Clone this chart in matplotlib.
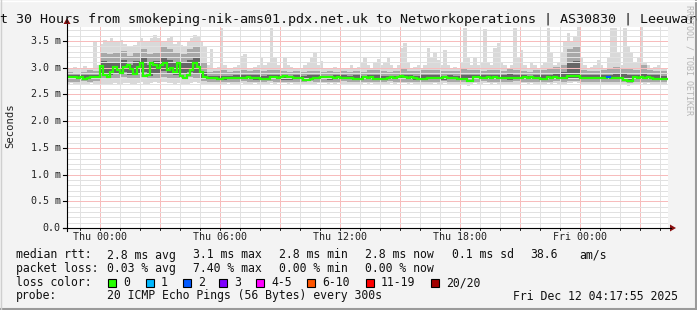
import numpy as np
import matplotlib
matplotlib.use("Agg")
import matplotlib.pyplot as plt
from matplotlib.patches import Rectangle, Polygon
from matplotlib.lines import Line2D

# ---------------- data (milliseconds, 10-minute bins from Wed 22:20) ----------------
bin_hours = 1.0 / 6.0
start_hour = -5.0 / 3.0   # Wed 22:20 relative to Thu 00:00

median_rtt = [
    2.82, 2.83, 2.82, 2.81, 2.82, 2.79, 2.80, 2.82, 2.83, 2.82,
    3.03, 2.86, 2.83, 2.92, 3.01, 2.96, 2.91, 3.01, 3.06, 2.98, 2.88, 3.02, 3.08, 2.85, 2.87, 3.09,
    3.05, 3.00, 3.05, 3.09, 2.96, 3.00, 2.92, 3.09, 2.84, 2.81, 2.86, 2.96, 3.09, 3.02, 2.92, 2.83,
    2.81, 2.81, 2.81, 2.79, 2.79, 2.80, 2.81, 2.81, 2.80, 2.80,
    2.80, 2.81, 2.82, 2.80, 2.80, 2.80, 2.78, 2.79, 2.79, 2.82,
    2.82, 2.81, 2.83, 2.84, 2.83, 2.83, 2.80, 2.80, 2.80, 2.77,
    2.77, 2.78, 2.80, 2.80, 2.83, 2.83, 2.83, 2.82, 2.81, 2.82,
    2.80, 2.80, 2.80, 2.80, 2.79, 2.78, 2.79, 2.82, 2.81, 2.82,
    2.79, 2.79, 2.78, 2.79, 2.81, 2.82, 2.81, 2.83, 2.84, 2.83,
    2.81, 2.82, 2.81, 2.79, 2.78, 2.78, 2.80, 2.80, 2.81, 2.80,
    2.81, 2.82, 2.80, 2.80, 2.80, 2.79, 2.79, 2.79, 2.75, 2.76,
    2.82, 2.82, 2.81, 2.81, 2.82, 2.81, 2.82, 2.80, 2.80, 2.80,
    2.80, 2.80, 2.81, 2.80, 2.81, 2.82, 2.81, 2.83, 2.80, 2.80,
    2.79, 2.79, 2.82, 2.81, 2.82, 2.80, 2.80, 2.81, 2.84, 2.85,
    2.85, 2.85, 2.80, 2.80, 2.80, 2.81, 2.80, 2.80, 2.80, 2.81,
    2.82, 2.81, 2.80, 2.80, 2.80, 2.77, 2.76, 2.76, 2.82, 2.81,
    2.82, 2.81, 2.82, 2.81, 2.79, 2.79, 2.79, 2.79,
]

ping_max = [
    3.00, 2.98, 3.02, 2.98, 3.00, 3.03, 2.99, 3.00, 3.50, 3.05,
    3.45, 3.52, 3.50, 3.55, 3.48, 3.50, 3.52, 3.45, 3.40, 3.38, 3.42, 3.50, 3.55, 3.48, 3.50, 3.55,
    3.62, 3.55, 3.50, 3.48, 3.55, 3.60, 3.45, 3.50, 3.42, 3.40, 3.48, 3.55, 3.62, 3.58, 3.50, 3.40,
    3.05, 3.35, 3.00, 3.02, 3.74, 3.05, 2.98, 3.00, 3.02, 3.05,
    3.22, 3.25, 3.00, 2.98, 3.02, 3.05, 3.18, 3.05, 3.10, 3.74,
    3.20, 3.05, 3.00, 3.18, 3.05, 3.02, 3.00, 2.98, 3.00, 3.05,
    3.10, 3.18, 3.30, 3.05, 3.12, 3.00, 2.98, 3.00, 3.02, 2.98,
    3.00, 2.98, 3.00, 3.05, 3.00, 3.02, 3.10, 3.18, 3.05, 3.00,
    3.10, 3.16, 3.05, 3.10, 3.20, 3.05, 3.00, 3.05, 3.36, 3.46,
    3.10, 3.00, 3.02, 3.05, 3.00, 3.05, 3.36, 3.18, 3.30, 3.15,
    3.05, 3.33, 3.05, 3.00, 3.02, 3.00, 3.10, 3.74, 3.20, 3.05,
    3.18, 3.05, 3.10, 3.72, 3.10, 3.05, 3.36, 3.46, 3.10, 3.05,
    3.00, 3.05, 3.74, 3.20, 3.33, 3.05, 3.00, 3.10, 3.05, 3.00,
    3.05, 3.10, 3.74, 3.30, 3.05, 3.10, 3.30, 3.50, 3.65, 3.50,
    3.60, 3.76, 3.20, 3.05, 3.00, 3.02, 3.05, 3.15, 3.05, 3.00,
    3.20, 3.74, 3.74, 3.30, 3.05, 3.74, 3.40, 3.27, 3.10, 3.20,
    3.76, 3.10, 3.05, 3.00, 3.02, 3.05, 3.00, 2.98,
]

ping_min = [
    2.70, 2.71, 2.70, 2.69, 2.70, 2.68, 2.70, 2.71, 2.70, 2.69,
    2.70, 2.68, 2.69, 2.70, 2.72, 2.70, 2.69, 2.71, 2.72, 2.70, 2.69, 2.72, 2.74, 2.70, 2.68, 2.72,
    2.74, 2.72, 2.73, 2.74, 2.71, 2.72, 2.70, 2.72, 2.69, 2.68, 2.69, 2.71, 2.73, 2.71, 2.70, 2.69,
    2.70, 2.69, 2.70, 2.68, 2.69, 2.70, 2.71, 2.70, 2.69, 2.70,
    2.71, 2.70, 2.69, 2.70, 2.71, 2.70, 2.68, 2.69, 2.70, 2.71,
    2.70, 2.71, 2.72, 2.71, 2.70, 2.71, 2.70, 2.69, 2.70, 2.68,
    2.68, 2.69, 2.70, 2.71, 2.72, 2.71, 2.70, 2.71, 2.70, 2.71,
    2.70, 2.69, 2.70, 2.70, 2.69, 2.68, 2.69, 2.71, 2.70, 2.71,
    2.69, 2.70, 2.68, 2.69, 2.70, 2.71, 2.70, 2.71, 2.72, 2.71,
    2.70, 2.71, 2.70, 2.69, 2.68, 2.69, 2.70, 2.70, 2.71, 2.70,
    2.70, 2.71, 2.70, 2.69, 2.70, 2.69, 2.70, 2.69, 2.66, 2.67,
    2.71, 2.70, 2.70, 2.71, 2.71, 2.70, 2.71, 2.70, 2.69, 2.70,
    2.70, 2.69, 2.70, 2.70, 2.71, 2.71, 2.70, 2.72, 2.70, 2.69,
    2.69, 2.68, 2.71, 2.70, 2.71, 2.70, 2.69, 2.70, 2.72, 2.72,
    2.73, 2.72, 2.70, 2.69, 2.70, 2.70, 2.70, 2.69, 2.70, 2.70,
    2.68, 2.70, 2.70, 2.69, 2.70, 2.67, 2.66, 2.67, 2.70, 2.70,
    2.71, 2.70, 2.71, 2.70, 2.69, 2.69, 2.68, 2.69,
]

# smoke bands on 20-minute bins
band_hours = 1.0 / 3.0
ping_p10 = [
    2.74, 2.74, 2.75, 2.74, 2.75,
    2.80, 2.78, 2.80, 2.82, 2.79, 2.80, 2.82, 2.78, 2.80, 2.82, 2.80, 2.78, 2.80, 2.82, 2.79, 2.75,
    2.74, 2.74, 2.73, 2.74, 2.74, 2.75, 2.74, 2.73, 2.74, 2.75,
    2.74, 2.74, 2.73, 2.74, 2.74, 2.75, 2.74, 2.74, 2.73, 2.74,
    2.75, 2.74, 2.74, 2.74, 2.73, 2.74, 2.74, 2.75, 2.74, 2.74,
    2.74, 2.73, 2.74, 2.74, 2.74, 2.75, 2.74, 2.74, 2.73, 2.74,
    2.74, 2.75, 2.74, 2.74, 2.74, 2.74, 2.75, 2.74, 2.74, 2.73,
    2.73, 2.74, 2.75, 2.74, 2.76, 2.76, 2.74, 2.74, 2.74, 2.74,
    2.74, 2.74, 2.74, 2.72, 2.73, 2.74, 2.74, 2.74, 2.73,
]
ping_p90 = [
    2.92, 2.90, 2.92, 2.95, 2.93,
    3.30, 3.25, 3.28, 3.32, 3.22, 3.30, 3.35, 3.25, 3.30, 3.38, 3.35, 3.28, 3.25, 3.35, 3.38, 3.10,
    2.92, 2.93, 2.95, 2.92, 2.93, 2.96, 2.94, 2.95, 2.93, 2.95,
    2.96, 2.93, 2.92, 2.93, 2.92, 2.93, 2.94, 2.92, 2.93, 2.92,
    2.93, 2.92, 2.94, 2.92, 2.95, 2.96, 2.93, 2.92, 2.93, 2.97,
    2.94, 2.93, 2.95, 2.96, 2.95, 2.93, 2.94, 2.93, 2.98, 2.96,
    2.95, 2.94, 2.95, 2.96, 2.94, 2.98, 2.96, 2.93, 2.92, 2.95,
    2.95, 2.97, 3.02, 3.05, 3.35, 3.40, 2.95, 2.94, 2.93, 2.95,
    2.98, 3.02, 3.00, 3.00, 2.96, 3.05, 2.95, 2.94, 2.93,
]
ping_p25 = [
    2.79, 2.78, 2.79, 2.79, 2.79,
    2.88, 2.86, 2.88, 2.92, 2.86, 2.90, 2.92, 2.85, 2.90, 2.93, 2.90, 2.86, 2.88, 2.92, 2.88, 2.79,
    2.78, 2.78, 2.77, 2.78, 2.78, 2.78, 2.79, 2.77, 2.78, 2.79,
    2.78, 2.77, 2.77, 2.78, 2.78, 2.79, 2.78, 2.78, 2.77, 2.78,
    2.79, 2.78, 2.77, 2.78, 2.78, 2.78, 2.77, 2.78, 2.78, 2.78,
    2.78, 2.77, 2.78, 2.78, 2.78, 2.77, 2.78, 2.78, 2.78, 2.78,
    2.78, 2.79, 2.78, 2.78, 2.78, 2.77, 2.78, 2.79, 2.78, 2.78,
    2.77, 2.78, 2.78, 2.78, 2.80, 2.80, 2.78, 2.78, 2.78, 2.78,
    2.78, 2.78, 2.78, 2.76, 2.78, 2.78, 2.78, 2.78, 2.77,
]
ping_p75 = [
    2.86, 2.86, 2.87, 2.87, 2.86,
    3.12, 3.08, 3.10, 3.15, 3.05, 3.12, 3.18, 3.06, 3.12, 3.18, 3.15, 3.10, 3.08, 3.15, 3.18, 2.92,
    2.85, 2.85, 2.85, 2.85, 2.86, 2.86, 2.87, 2.86, 2.85, 2.86,
    2.87, 2.85, 2.85, 2.86, 2.85, 2.86, 2.86, 2.85, 2.85, 2.86,
    2.86, 2.85, 2.86, 2.85, 2.86, 2.87, 2.85, 2.85, 2.85, 2.87,
    2.86, 2.85, 2.86, 2.87, 2.86, 2.85, 2.86, 2.85, 2.87, 2.86,
    2.86, 2.86, 2.86, 2.87, 2.86, 2.88, 2.86, 2.86, 2.85, 2.86,
    2.86, 2.87, 2.89, 2.92, 3.10, 3.12, 2.86, 2.86, 2.86, 2.86,
    2.87, 2.89, 2.88, 2.87, 2.86, 2.89, 2.86, 2.86, 2.85,
]

# (bin index, lost pings) for bins with packet loss
loss_events = [(162, 2)]

x_tick_hours = [0, 6, 12, 18, 24]
x_tick_labels = ["Thu 00:00", "Thu 06:00", "Thu 12:00", "Thu 18:00", "Fri 00:00"]
y_tick_values = [0.0, 0.5, 1.0, 1.5, 2.0, 2.5, 3.0, 3.5]
y_tick_labels = ["0.0", "0.5 m", "1.0 m", "1.5 m", "2.0 m", "2.5 m", "3.0 m", "3.5 m"]

loss_color_labels = ["0", "1", "2", "3", "4-5", "6-10", "11-19", "20/20"]
loss_colors = ["#26ff00", "#00b8ff", "#0059ff", "#7e00ff", "#ff00ff", "#ff5500", "#ff0000", "#a10000"]

title = "Last 30 Hours from smokeping-nik-ams01.pdx.net.uk to Networkoperations | AS30830 | Leeuwarden"

for name, arr, n in [("med", median_rtt, 180), ("max", ping_max, 180), ("min", ping_min, 180),
                     ("p10", ping_p10, 90), ("p90", ping_p90, 90), ("p25", ping_p25, 90), ("p75", ping_p75, 90)]:
    assert len(arr) == n, (name, len(arr))

# ---------------- figure ----------------
W, H = 697, 310
fig = plt.figure(figsize=(W / 100, H / 100), dpi=100)
fig.patch.set_facecolor("#f3f3f3")
MONO = "DejaVu Sans Mono"

def fx(px):
    return px / W

def fy(py):
    return 1 - py / H

L, R, T, B = 67, 668, 27, 228
ax = fig.add_axes([fx(L), fy(B), (R - L) / W, (B - T) / H])
ax.set_facecolor("white")
x0, x1 = (L - 100) / 20.0, (R - 100) / 20.0
ax.set_xlim(x0, x1)
ymax = (B - T) / 53.43
ax.set_ylim(0, ymax)
for s in ax.spines.values():
    s.set_visible(False)
ax.set_xticks([])
ax.set_yticks([])

# smoke
n = len(median_rtt)
edges = start_hour + bin_hours * np.arange(n + 1)
def ext(a):
    a = list(a)
    return np.array(a + [a[-1]])

ax.fill_between(edges, ext(ping_min), ext(ping_max), step="post", color="#d9d9d9", lw=0, zorder=1)
nb = len(ping_p10)
bedges = start_hour + band_hours * np.arange(nb + 1)
ax.fill_between(bedges, ext(ping_p10), ext(ping_p90), step="post", color="#a8a8a8", lw=0, zorder=2)
ax.fill_between(bedges, ext(ping_p25), ext(ping_p75), step="post", color="#666666", lw=0, zorder=3)

# grid: crisp 1px lines, tinted to the average tone of rrdtool's dotted grid
minor_kw = dict(color="#e1e1e1", lw=0.72, zorder=4, antialiased=False, snap=True)
major_kw = dict(color="#f7bcbc", lw=0.72, zorder=4, antialiased=False, snap=True)
for h in range(-1, 29):
    if h % 3 == 0:
        ax.axvline(h, **major_kw)
    else:
        ax.axvline(h, **minor_kw)
for k in range(1, 38):
    v = k / 10.0
    if k % 5 == 0:
        ax.axhline(v, **major_kw)
    else:
        ax.axhline(v, **minor_kw)

# median line with loss colours
ax.plot(edges, ext(median_rtt), drawstyle="steps-post", color=loss_colors[0], lw=1.6, zorder=6,
        solid_joinstyle="miter")
for idx, lost in loss_events:
    c = loss_colors[2] if lost == 2 else loss_colors[1]
    ax.plot([edges[idx], edges[idx + 1]], [median_rtt[idx], median_rtt[idx]], color=c, lw=1.6, zorder=7)

# axes lines and arrows
fig.add_artist(Line2D([fx(L), fx(L)], [fy(B + 3), fy(24)], color="black", lw=0.8))
fig.add_artist(Line2D([fx(L - 4), fx(671)], [fy(B), fy(B)], color="black", lw=0.8))
arrow_c = "#8b1010"
fig.add_artist(Polygon([[fx(L - 3.5), fy(24)], [fx(L + 3.5), fy(24)], [fx(L), fy(18)]], closed=True,
                       color=arrow_c, lw=0))
fig.add_artist(Polygon([[fx(670), fy(B - 3.5)], [fx(670), fy(B + 3.5)], [fx(676), fy(B)]], closed=True,
                       color=arrow_c, lw=0))

# y tick marks/labels
for v, lab in zip(y_tick_values, y_tick_labels):
    py = B - v * 53.43
    fig.add_artist(Line2D([fx(L - 4), fx(L)], [fy(py), fy(py)], color="black", lw=0.8))
    fig.text(fx(60.5), fy(py), lab, ha="right", va="center", family=MONO, fontsize=7.2, color="#222222")
# x tick marks / labels
for h in range(-1, 29):
    px = 100 + 20 * h
    if L <= px <= R:
        fig.add_artist(Line2D([fx(px), fx(px)], [fy(B), fy(B + 2)], color="black", lw=0.6))
for h, lab in zip(x_tick_hours, x_tick_labels):
    px = 100 + 20 * h
    fig.text(fx(px), fy(237.5), lab, ha="center", va="center", family=MONO, fontsize=7.2, color="#222222")

fig.text(fx(10.5), fy(126), "Seconds", rotation=90, ha="center", va="center", family=MONO,
         fontsize=7.6, color="#222222")

# title (wider than the canvas, centred, cut at both edges as in the original)
fig.text(fx(348.5), fy(19), title, ha="center", va="center", family=MONO, fontsize=9.6, color="#111111")

# watermark
fig.text(fx(688.5), fy(5), "RRDTOOL / TOBI OETIKER", rotation=270, ha="center", va="top", family=MONO,
         fontsize=6.0, color="#b5b5b5")

# legend
LF = 8.3
def lt(px, py, s):
    fig.text(fx(px), fy(py), s, ha="left", va="center", family=MONO, fontsize=LF, color="#111111")

row1 = 255
lt(16, row1, "median rtt:")
for px, s in zip([107, 193, 279, 365, 452],
                 ["2.8 ms avg", "3.1 ms max", "2.8 ms min", "2.8 ms now", "0.1 ms sd"]):
    lt(px, row1, s)
lt(530, row1, "38.6")
lt(579, row1, "am/s")

row2 = 268.5
lt(16, row2, "packet loss:")
for px, s in zip([107, 193, 279, 365], ["0.03 % avg", "7.40 % max", "0.00 % min", "0.00 % now"]):
    lt(px, row2, s)

row3 = 282.5
lt(16, row3, "loss color:")
box_x = [108, 146, 183, 219, 256, 307, 366, 431]
for bx, col, lab in zip(box_x, loss_colors, loss_color_labels):
    fig.add_artist(Rectangle((fx(bx), fy(row3 + 4)), 8 / W, 8 / H, facecolor=col, edgecolor="black",
                             lw=0.8))
    lt(bx + 15, row3, lab)

row4 = 296
lt(16, row4, "probe:")
lt(107, row4, "20 ICMP Echo Pings (56 Bytes) every 300s")
lt(513, row4, "Fri Dec 12 04:17:55 2025")

# frame shading
fig.add_artist(Line2D([0, 1], [fy(309), fy(309)], color="#9a9a9a", lw=1.5))
fig.add_artist(Line2D([fx(696), fx(696)], [0, 1], color="#9a9a9a", lw=1.5))
fig.add_artist(Line2D([0, 1], [fy(0.5), fy(0.5)], color="#ffffff", lw=1.0))
fig.add_artist(Line2D([fx(0.5), fx(0.5)], [0, 1], color="#cfcfcf", lw=1.0))

fig.savefig("out.png", dpi=100, facecolor=fig.get_facecolor())
